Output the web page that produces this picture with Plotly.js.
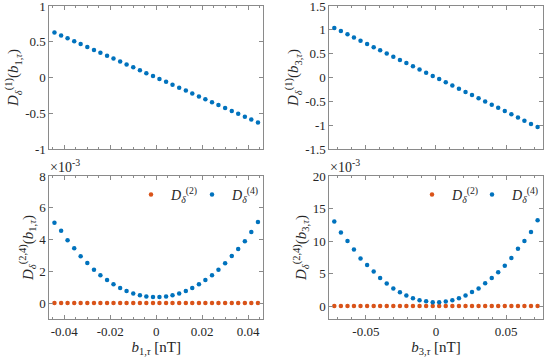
<!DOCTYPE html>
<html>
<head>
<meta charset="utf-8">
<script src="https://cdn.plot.ly/plotly-3.0.1.min.js"></script>
<style>
  html, body { margin: 0; padding: 0; background: #fff; }
  #chart { width: 545px; height: 358px; }
</style>
</head>
<body>
<div id="chart"></div>
<script>
// b_{1,tau} sample points [nT]
var b1 = [-0.0443, -0.0414, -0.0386, -0.0357, -0.0329, -0.0300, -0.0271, -0.0243,
          -0.0214, -0.0186, -0.0157, -0.0129, -0.0100, -0.0071, -0.0043, -0.0014,
           0.0014,  0.0043,  0.0071,  0.0100,  0.0129,  0.0157,  0.0186,  0.0214,
           0.0243,  0.0271,  0.0300,  0.0329,  0.0357,  0.0386,  0.0414,  0.0443];

// b_{3,tau} sample points [nT]
var b3 = [-0.0725, -0.0678, -0.0631, -0.0585, -0.0538, -0.0491, -0.0444, -0.0398,
          -0.0351, -0.0304, -0.0257, -0.0211, -0.0164, -0.0117, -0.0070, -0.0023,
           0.0023,  0.0070,  0.0117,  0.0164,  0.0211,  0.0257,  0.0304,  0.0351,
           0.0398,  0.0444,  0.0491,  0.0538,  0.0585,  0.0631,  0.0678,  0.0725];

// first order term, panel b1
var d1b1 = [0.630, 0.589, 0.549, 0.508, 0.467, 0.427, 0.386, 0.345,
            0.305, 0.264, 0.224, 0.183, 0.142, 0.102, 0.061, 0.020,
           -0.020, -0.061, -0.102, -0.142, -0.183, -0.224, -0.264, -0.305,
           -0.345, -0.386, -0.427, -0.467, -0.508, -0.549, -0.589, -0.630];

// first order term, panel b3
var d1b3 = [1.040, 0.973, 0.906, 0.839, 0.772, 0.705, 0.637, 0.570,
            0.503, 0.436, 0.369, 0.302, 0.235, 0.168, 0.101, 0.034,
           -0.034, -0.101, -0.168, -0.235, -0.302, -0.369, -0.436, -0.503,
           -0.570, -0.637, -0.705, -0.772, -0.839, -0.906, -0.973, -1.040];

// second and fourth order terms (x 1e-3)
var d2b1 = [0, 0, 0, 0, 0, 0, 0, 0, 0, 0, 0, 0, 0, 0, 0, 0,
            0, 0, 0, 0, 0, 0, 0, 0, 0, 0, 0, 0, 0, 0, 0, 0];
var d4b1 = [5.06, 4.55, 3.96, 3.45, 2.95, 2.52, 2.10, 1.76, 1.45, 1.18, 0.95, 0.77, 0.61, 0.49, 0.42, 0.38,
            0.38, 0.42, 0.49, 0.61, 0.77, 0.95, 1.18, 1.45, 1.76, 2.10, 2.51, 2.97, 3.40, 3.90, 4.48, 5.10];
var d2b3 = [0, 0, 0, 0, 0, 0, 0, 0, 0, 0, 0, 0, 0, 0, 0, 0,
            0, 0, 0, 0, 0, 0, 0, 0, 0, 0, 0, 0, 0, 0, 0, 0];
var d4b3 = [13.0, 11.3, 10.0, 8.7, 7.3, 6.3, 5.3, 4.3, 3.45, 2.7, 2.1, 1.6, 1.2, 0.9, 0.72, 0.57,
            0.57, 0.70, 0.9, 1.2, 1.6, 2.15, 2.7, 3.5, 4.3, 5.2, 6.2, 7.4, 8.8, 10.0, 11.4, 13.2];

// tick values and labels
var xTicks1 = [-0.04, -0.02, 0, 0.02, 0.04];
var xLabels1 = ["-0.04", "-0.02", "0", "0.02", "0.04"];
var xTicks3 = [-0.05, 0, 0.05];
var xLabels3 = ["-0.05", "0", "0.05"];
var yTicksTL = [-1, -0.5, 0, 0.5, 1];
var yLabelsTL = ["-1", "-0.5", "0", "0.5", "1"];
var yTicksTR = [-1.5, -1, -0.5, 0, 0.5, 1, 1.5];
var yLabelsTR = ["-1.5", "-1", "-0.5", "0", "0.5", "1", "1.5"];
var yTicksBL = [0, 2, 4, 6, 8];
var yLabelsBL = ["0", "2", "4", "6", "8"];
var yTicksBR = [0, 5, 10, 15, 20];
var yLabelsBR = ["0", "5", "10", "15", "20"];

var blue = "#0072BD";
var orange = "#D95319";
var axisCol = "#8a8a8a";
var textCol = "#262626";
var serif = "Liberation Serif";

var name2 = "<i>D</i><sub><i>δ</i></sub><sup>(2)</sup>";
var name4 = "<i>D</i><sub><i>δ</i></sub><sup>(4)</sup>";

function dots(x, y, color, xa, ya, name, legend, show) {
    return {
        x: x, y: y, xaxis: xa, yaxis: ya,
        type: "scatter", mode: "markers",
        marker: { color: color, size: 4.5 },
        name: name, legend: legend, showlegend: show,
        hoverinfo: "skip"
    };
}

// one legend per entry so each can sit exactly where the reference has it
var traces = [
    dots(b1, d1b1, blue, "x", "y", "", "legend", false),
    dots(b3, d1b3, blue, "x2", "y2", "", "legend", false),
    dots(b1, d2b1, orange, "x3", "y3", name2, "legend", true),
    dots(b1, d4b1, blue, "x3", "y3", name4, "legend2", true),
    dots(b3, d2b3, orange, "x4", "y4", name2, "legend3", true),
    dots(b3, d4b3, blue, "x4", "y4", name4, "legend4", true)
];

// shared x axis style
function xAxis(domain, range, vals, labels, showLabels, anchor, title, minorStep) {
    return {
        domain: domain, range: range, anchor: anchor,
        tickmode: "array", tickvals: vals, ticktext: labels,
        showticklabels: showLabels, ticklabeloverflow: "allow",
        ticks: "inside", ticklen: 4, tickcolor: axisCol,
        minor: { ticks: "inside", ticklen: 2, dtick: minorStep, tickcolor: axisCol },
        showline: true, linecolor: axisCol, linewidth: 1, mirror: "ticks",
        showgrid: false, zeroline: false,
        tickfont: { family: serif, size: 13, color: textCol },
        title: { text: title, font: { family: serif, size: 15, color: textCol }, standoff: 3 }
    };
}

function yAxis(domain, range, vals, labels, anchor, title) {
    return {
        domain: domain, range: range, anchor: anchor,
        tickmode: "array", tickvals: vals, ticktext: labels,
        ticklabeloverflow: "allow",
        ticks: "inside", ticklen: 4, tickcolor: axisCol,
        showline: true, linecolor: axisCol, linewidth: 1, mirror: "ticks",
        showgrid: false, zeroline: false,
        tickfont: { family: serif, size: 13, color: textCol },
        title: { text: title, font: { family: serif, size: 15, color: textCol }, standoff: 2 }
    };
}

function legendAt(px, py) {
    return {
        orientation: "h", x: px / W, y: (H - py) / H, xanchor: "left", yanchor: "top",
        bgcolor: "rgba(0,0,0,0)", font: { family: serif, size: 14, color: textCol },
        itemwidth: 30
    };
}

var W = 545, H = 358;
var leftDom = [49.5 / W, 263.5 / W];
var rightDom = [330 / W, 543.5 / W];
var topDom = [(H - 149) / H, (H - 6) / H];
var botDom = [(H - 319) / H, (H - 176) / H];

var layout = {
    width: W, height: H,
    margin: { l: 0, r: 0, t: 0, b: 0 },
    paper_bgcolor: "#fff", plot_bgcolor: "#fff",
    font: { family: serif, color: textCol },
    xaxis: xAxis(leftDom, [-0.0465, 0.0465], xTicks1, xLabels1, false, "y", "", 0.005),
    yaxis: yAxis(topDom, [-1, 1], yTicksTL, yLabelsTL, "x",
        "<i>D</i><sub><i>δ</i></sub><sup>(1)</sup>(<i>b</i><sub>1,<i>τ</i></sub>)"),
    xaxis2: xAxis(rightDom, [-0.076, 0.076], xTicks3, xLabels3, false, "y2", "", 0.01),
    yaxis2: yAxis(topDom, [-1.5, 1.5], yTicksTR, yLabelsTR, "x2",
        "<i>D</i><sub><i>δ</i></sub><sup>(1)</sup>(<i>b</i><sub>3,<i>τ</i></sub>)"),
    xaxis3: xAxis(leftDom, [-0.0465, 0.0465], xTicks1, xLabels1, true, "y3",
        "<i>b</i><sub>1,<i>τ</i></sub> [nT]", 0.005),
    yaxis3: yAxis(botDom, [-1, 8], yTicksBL, yLabelsBL, "x3",
        "<i>D</i><sub><i>δ</i></sub><sup>(2,4)</sup>(<i>b</i><sub>1,<i>τ</i></sub>)"),
    xaxis4: xAxis(rightDom, [-0.076, 0.076], xTicks3, xLabels3, true, "y4",
        "<i>b</i><sub>3,<i>τ</i></sub> [nT]", 0.01),
    yaxis4: yAxis(botDom, [-2, 20], yTicksBR, yLabelsBR, "x4",
        "<i>D</i><sub><i>δ</i></sub><sup>(2,4)</sup>(<i>b</i><sub>3,<i>τ</i></sub>)"),
    legend: legendAt(131, 179),
    legend2: legendAt(192, 179),
    legend3: legendAt(412, 179),
    legend4: legendAt(473, 179),
    annotations: [
        { text: "×10<sup>-3</sup>", xref: "paper", yref: "paper", x: 48 / W, y: (H - 166) / H,
          xanchor: "left", yanchor: "middle", showarrow: false,
          font: { family: serif, size: 14, color: textCol } },
        { text: "×10<sup>-3</sup>", xref: "paper", yref: "paper", x: 329 / W, y: (H - 166) / H,
          xanchor: "left", yanchor: "middle", showarrow: false,
          font: { family: serif, size: 14, color: textCol } }
    ]
};

Plotly.newPlot("chart", traces, layout, { displayModeBar: false, staticPlot: true });
</script>
</body>
</html>
